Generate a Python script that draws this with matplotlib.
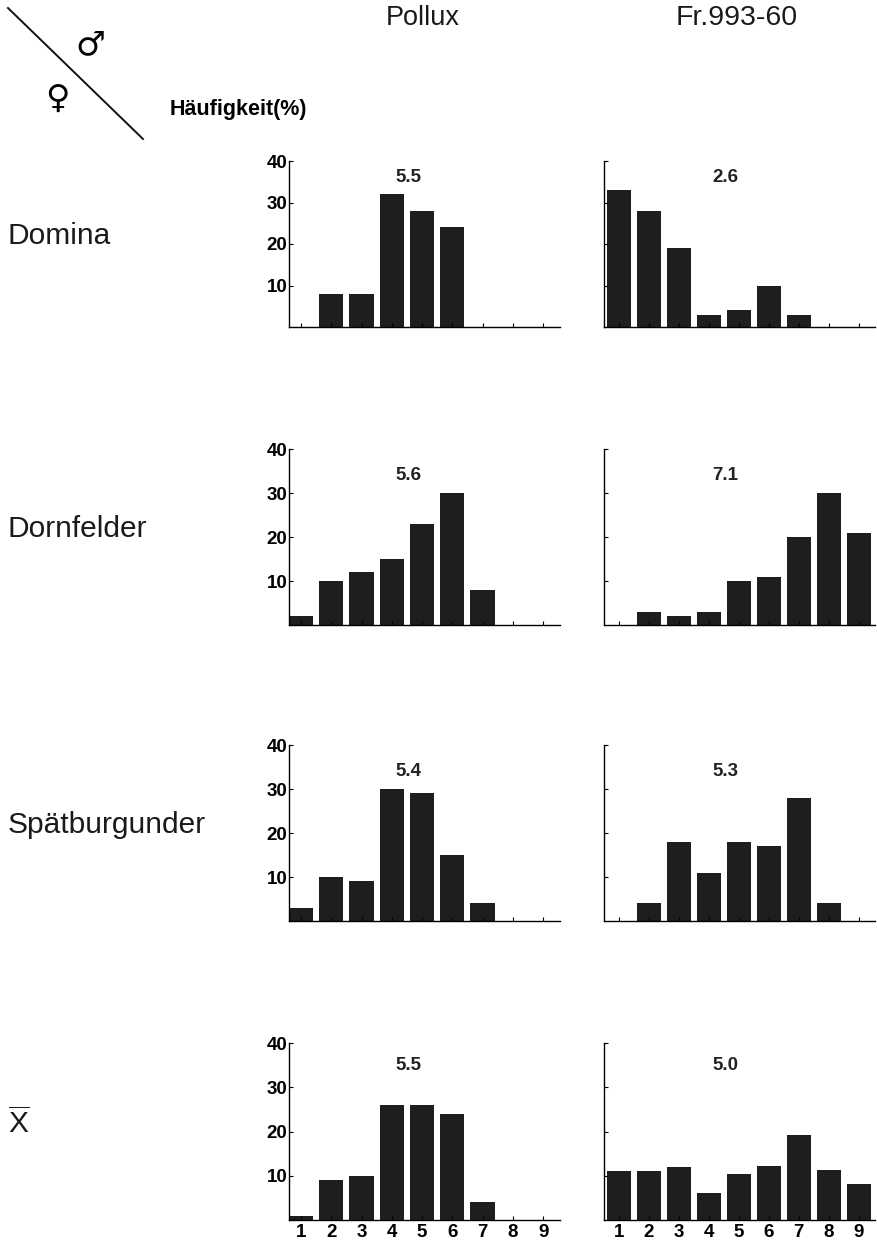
import numpy as np
import matplotlib
matplotlib.use("Agg")
import matplotlib.pyplot as plt

plt.rcParams['font.family'] = ['Liberation Sans', 'DejaVu Sans']
plt.rcParams['mathtext.fontset'] = 'custom'
plt.rcParams['mathtext.rm'] = 'Liberation Sans'

# data
klassen = [1, 2, 3, 4, 5, 6, 7, 8, 9]
muetter = ["Domina", "Dornfelder", "Spätburgunder", r"$\overline{\mathrm{X}}$"]
vaeter = ["Pollux", "Fr.993-60"]

pollux = [
    [0, 8, 8, 32, 28, 24, 0, 0, 0],
    [2, 10, 12, 15, 23, 30, 8, 0, 0],
    [3, 10, 9, 30, 29, 15, 4, 0, 0],
    [1, 9, 10, 26, 26, 24, 4, 0, 0],
]
fr993 = [
    [33, 28, 19, 3, 4, 10, 3, 0, 0],
    [0, 3, 2, 3, 10, 11, 20, 30, 21],
    [0, 4, 18, 11, 18, 17, 28, 4, 0],
    [11, 11, 12, 6, 10.3, 12.2, 19.2, 11.2, 8.2],
]
mittel_pollux = ["5.5", "5.6", "5.4", "5.5"]
mittel_fr993 = ["2.6", "7.1", "5.3", "5.0"]

W, H = 877, 1243
fig = plt.figure(figsize=(W / 100, H / 100), dpi=100)

# pixel layout of the panels (top of 40 / baseline)
row_px = [(161, 327), (449, 625), (745, 921), (1043, 1220)]
col_px = [(289, 560), (604, 875)]
col_xlim = [(0.6, 9.56), (0.5, 9.55)]
text_y = [36, 34, 34, 35]

bar_col = '#1e1e1e'
daten = [pollux, fr993]
mittel = [mittel_pollux, mittel_fr993]

for r in range(4):
    top, bot = row_px[r]
    for c in range(2):
        x0, x1 = col_px[c]
        ax = fig.add_axes([x0 / W, 1 - bot / H, (x1 - x0) / W, (bot - top) / H])
        ax.bar(klassen, daten[c][r], width=0.8, color=bar_col)
        ax.set_xlim(*col_xlim[c])
        ax.set_ylim(0, 40)
        ax.spines['top'].set_visible(False)
        ax.spines['right'].set_visible(False)
        ax.spines['left'].set_linewidth(1.0)
        ax.spines['bottom'].set_linewidth(1.0)
        ax.set_xticks(klassen)
        ax.set_yticks([10, 20, 30, 40])
        ax.tick_params(axis='both', direction='in', length=3, width=0.8)
        if c == 0:
            ax.set_yticklabels(['10', '20', '30', '40'], fontsize=13.5, fontweight='bold')
            ax.tick_params(axis='y', pad=1)
        else:
            ax.set_yticklabels([])
        if r == 3:
            ax.set_xticklabels([str(k) for k in klassen], fontsize=13.5, fontweight='bold')
            ax.tick_params(axis='x', pad=3)
        else:
            ax.set_xticklabels([])
        ax.text(4.55, text_y[r], mittel[c][r], ha='center', va='center',
                fontsize=13.5, fontweight='bold', color='#222222')

    # row label
    fig.text(8 / W, 1 - ((top + bot) / 2 - 8) / H, muetter[r], ha='left', va='center',
             fontsize=21.5, color='#1a1a1a')

# column headers
fig.text(423 / W, 1 - 18 / H, vaeter[0], ha='center', va='center', fontsize=19.5, color='#1a1a1a')
fig.text(737 / W, 1 - 18 / H, vaeter[1], ha='center', va='center', fontsize=20.5, color='#1a1a1a')

# header corner
fig.add_artist(plt.Line2D([8 / W, 143 / W], [1 - 8 / H, 1 - 139 / H], color='#111111', lw=1.4))
fig.text(90 / W, 1 - 45 / H, '\u2642', ha='center', va='center', fontsize=24, family='DejaVu Sans')
fig.text(57 / W, 1 - 98 / H, '\u2640', ha='center', va='center', fontsize=24, family='DejaVu Sans')
fig.text(170 / W, 1 - 110 / H, 'Häufigkeit(%)', ha='left', va='center', fontsize=15.5, fontweight='bold')

fig.savefig('out.png', dpi=100)
